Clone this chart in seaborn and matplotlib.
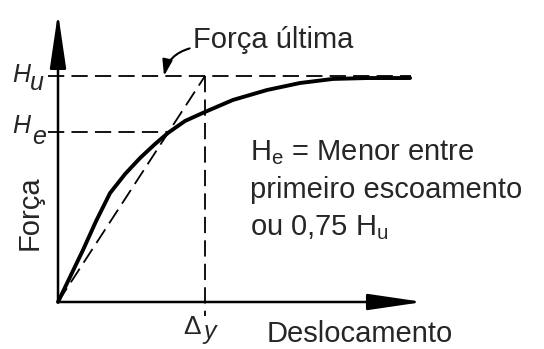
import matplotlib
matplotlib.use('Agg')
import matplotlib.pyplot as plt
import seaborn as sns

# curva forca x deslocamento (unidades: Delta_y = 1, Hu = 1)
desloc = [0.0, 0.082, 0.170, 0.259, 0.354, 0.456, 0.558, 0.660, 0.748, 0.864,
          1.0, 1.190, 1.422, 1.646, 1.871, 2.102, 2.395]
forca = [0.0, 0.111, 0.230, 0.358, 0.482, 0.566, 0.637, 0.699, 0.748, 0.801,
         0.841, 0.894, 0.938, 0.969, 0.987, 0.991, 0.991]

Hu = 1.0
He = 0.75
delta_y = 1.0
x_max = 2.483
y_max = 1.279

sns.set_style('white')
plt.rcParams['font.family'] = ['Liberation Sans', 'DejaVu Sans']
plt.rcParams['mathtext.fontset'] = 'custom'
plt.rcParams['mathtext.rm'] = 'Liberation Sans'

fig = plt.figure(figsize=(5.44, 3.49), dpi=100)
ax = fig.add_axes([0, 0, 1, 1])
ax.set_xlim(-0.3946, 3.306)
ax.set_ylim(-0.208, 1.3363)
ax.axis('off')

# eixos com setas
head = '-|>,head_length=3.4,head_width=0.5'
ax.annotate('', xy=(x_max, 0), xytext=(0, 0),
            arrowprops=dict(arrowstyle=head, lw=1.8, color='black',
                            shrinkA=0, shrinkB=0, mutation_scale=10))
ax.annotate('', xy=(0, y_max), xytext=(0, 0),
            arrowprops=dict(arrowstyle=head, lw=1.8, color='black',
                            shrinkA=0, shrinkB=0, mutation_scale=10))

# linhas tracejadas
dash = dict(color='black', lw=1.3, dashes=(9, 4))
ax.plot([-0.07, 2.4], [Hu, Hu], **dash)
ax.plot([-0.07, He], [He, He], **dash)
ax.plot([delta_y, delta_y], [Hu, -0.062], **dash)
ax.plot([0, delta_y], [0, Hu], **dash)

# curva
sns.lineplot(x=desloc, y=forca, ax=ax, color='black', lw=2.8, legend=False)

# rotulos
ax.text(-0.313, 0.973, 'H', fontsize=18, fontstyle='italic')
ax.text(-0.19, 0.94, 'u', fontsize=18, fontstyle='italic')
ax.text(-0.313, 0.748, 'H', fontsize=18, fontstyle='italic')
ax.text(-0.177, 0.697, 'e', fontsize=18, fontstyle='italic')
ax.text(0.85, -0.14, 'Δ', fontsize=19)
ax.text(0.99, -0.165, 'y', fontsize=18, fontstyle='italic')

ax.text(-0.19, 0.394, 'Força', fontsize=21, rotation=90, ha='center', va='center')
ax.text(2.054, -0.178, 'Deslocamento', fontsize=21, ha='center')

ax.annotate('Força última', xy=(0.721, 1.0), xytext=(0.918, 1.124), fontsize=21,
            arrowprops=dict(arrowstyle='-|>,head_length=0.8,head_width=0.25',
                            connectionstyle='arc3,rad=0.3', color='black', lw=1.5,
                            shrinkA=0, shrinkB=0, mutation_scale=12,
                            relpos=(-0.02, 0.2)))

ax.text(1.306, 0.628, r'H$_\mathregular{e}$ = Menor entre', fontsize=21)
ax.text(1.306, 0.462, 'primeiro escoamento', fontsize=21)
ax.text(1.306, 0.296, r'ou 0,75 H$_\mathregular{u}$', fontsize=21)

fig.savefig('out.png', dpi=100)
